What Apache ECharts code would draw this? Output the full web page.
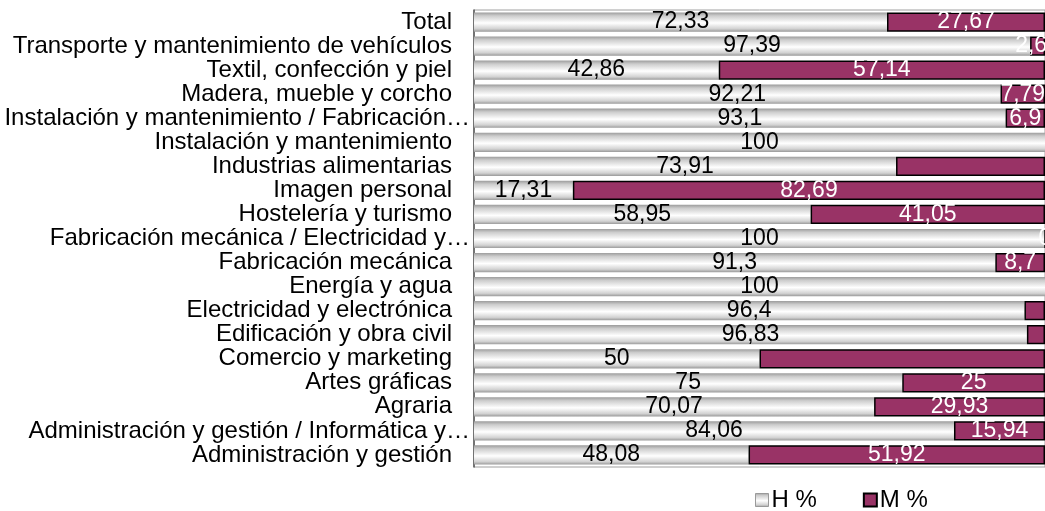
<!DOCTYPE html>
<html lang="es">
<head>
<meta charset="utf-8" />
<title>H % / M % por familia profesional</title>
<style>
html,body{margin:0;padding:0;background:#fff;}
#main{width:1045px;height:511px;}
</style>
<script src="https://cdn.jsdelivr.net/npm/echarts@6/dist/echarts.min.js"></script>
</head>
<body>
<div id="main"></div>
<script>
// categorias, de arriba a abajo
var categorias = [
	'Total',
	'Transporte y mantenimiento de vehículos',
	'Textil, confección y piel',
	'Madera, mueble y corcho',
	'Instalación y mantenimiento / Fabricación…',
	'Instalación y mantenimiento',
	'Industrias alimentarias',
	'Imagen personal',
	'Hostelería y turismo',
	'Fabricación mecánica / Electricidad y…',
	'Fabricación mecánica',
	'Energía y agua',
	'Electricidad y electrónica',
	'Edificación y obra civil',
	'Comercio y marketing',
	'Artes gráficas',
	'Agraria',
	'Administración y gestión / Informática y…',
	'Administración y gestión'
];
var hombres = [72.33, 97.39, 42.86, 92.21, 93.1, 100, 73.91, 17.31, 58.95, 100, 91.3, 100, 96.4, 96.83, 50, 75, 70.07, 84.06, 48.08];
var mujeres = [27.67, 2.61, 57.14, 7.79, 6.9, null, 26.09, 82.69, 41.05, 0, 8.7, null, 3.6, 3.17, 50, 25, 29.93, 15.94, 51.92];
// etiquetas de M que se ven en el grafico
var etiquetaM = [true, true, true, true, true, false, false, true, true, true, true, false, false, false, false, true, true, true, true];

var fuente = 'Liberation Sans, Arial, sans-serif';
function coma(v) { return String(v).replace('.', ','); }

var grisBarra = new echarts.graphic.LinearGradient(0, 0, 0, 1, [
	{offset: 0, color: '#9c9c9c'},
	{offset: 0.18, color: '#cdcdcd'},
	{offset: 0.55, color: '#ffffff'},
	{offset: 0.85, color: '#d2d2d2'},
	{offset: 1, color: '#9a9a9a'}
]);

var datosM = mujeres.map(function (v, i) {
	if (v === null) return '-';
	return {value: v, label: {show: etiquetaM[i]}};
});

var chart = echarts.init(document.getElementById('main'));
var option = {
	animation: false,
	textStyle: {fontFamily: fuente},
	grid: {
		left: 474, top: 10, width: 575, height: 457,
		show: true, borderColor: '#a0a0a0', borderWidth: 1, backgroundColor: '#fff'
	},
	legend: {
		left: 750, top: 483,
		icon: 'rect',
		itemWidth: 13, itemHeight: 13, itemGap: 46,
		textStyle: {fontSize: 24, color: '#000', fontFamily: fuente, padding: [0, 0, 0, -2]},
		data: [
			{name: 'H %', itemStyle: {borderColor: '#9a9a9a', borderWidth: 1}},
			{name: 'M %'}
		]
	},
	xAxis: {
		type: 'value', min: 0, max: 100,
		show: false
	},
	yAxis: {
		type: 'category',
		inverse: true,
		data: categorias,
		axisLine: {show: true, lineStyle: {color: '#555', width: 1.5}},
		axisTick: {show: false},
		axisLabel: {
			interval: 0, margin: 4,
			formatter: function (v) {
				// las etiquetas recortadas quedan mas a la derecha
				return v.slice(-1) === '…' ? '{t|' + v + '}' : '{n|' + v + '}';
			},
			rich: {
				n: {color: '#000', fontSize: 24, fontFamily: fuente, padding: [0, 18, 0, 0]},
				t: {color: '#000', fontSize: 24, fontFamily: fuente}
			}
		}
	},
	series: [
		{
			name: 'H %', type: 'bar', stack: 'total',
			barCategoryGap: '20%',
			data: hombres,
			itemStyle: {color: grisBarra},
			label: {
				show: true, position: 'inside', color: '#000',
				fontSize: 23, fontFamily: fuente,
				formatter: function (p) { return coma(p.value); }
			}
		},
		{
			name: 'M %', type: 'bar', stack: 'total',
			data: datosM,
			itemStyle: {color: '#993366', borderColor: '#000', borderWidth: 1.5},
			label: {
				show: true, position: 'inside', color: '#fff',
				fontSize: 23, fontFamily: fuente,
				formatter: function (p) { return coma(p.value); }
			}
		}
	]
};
chart.setOption(option);
</script>
</body>
</html>
